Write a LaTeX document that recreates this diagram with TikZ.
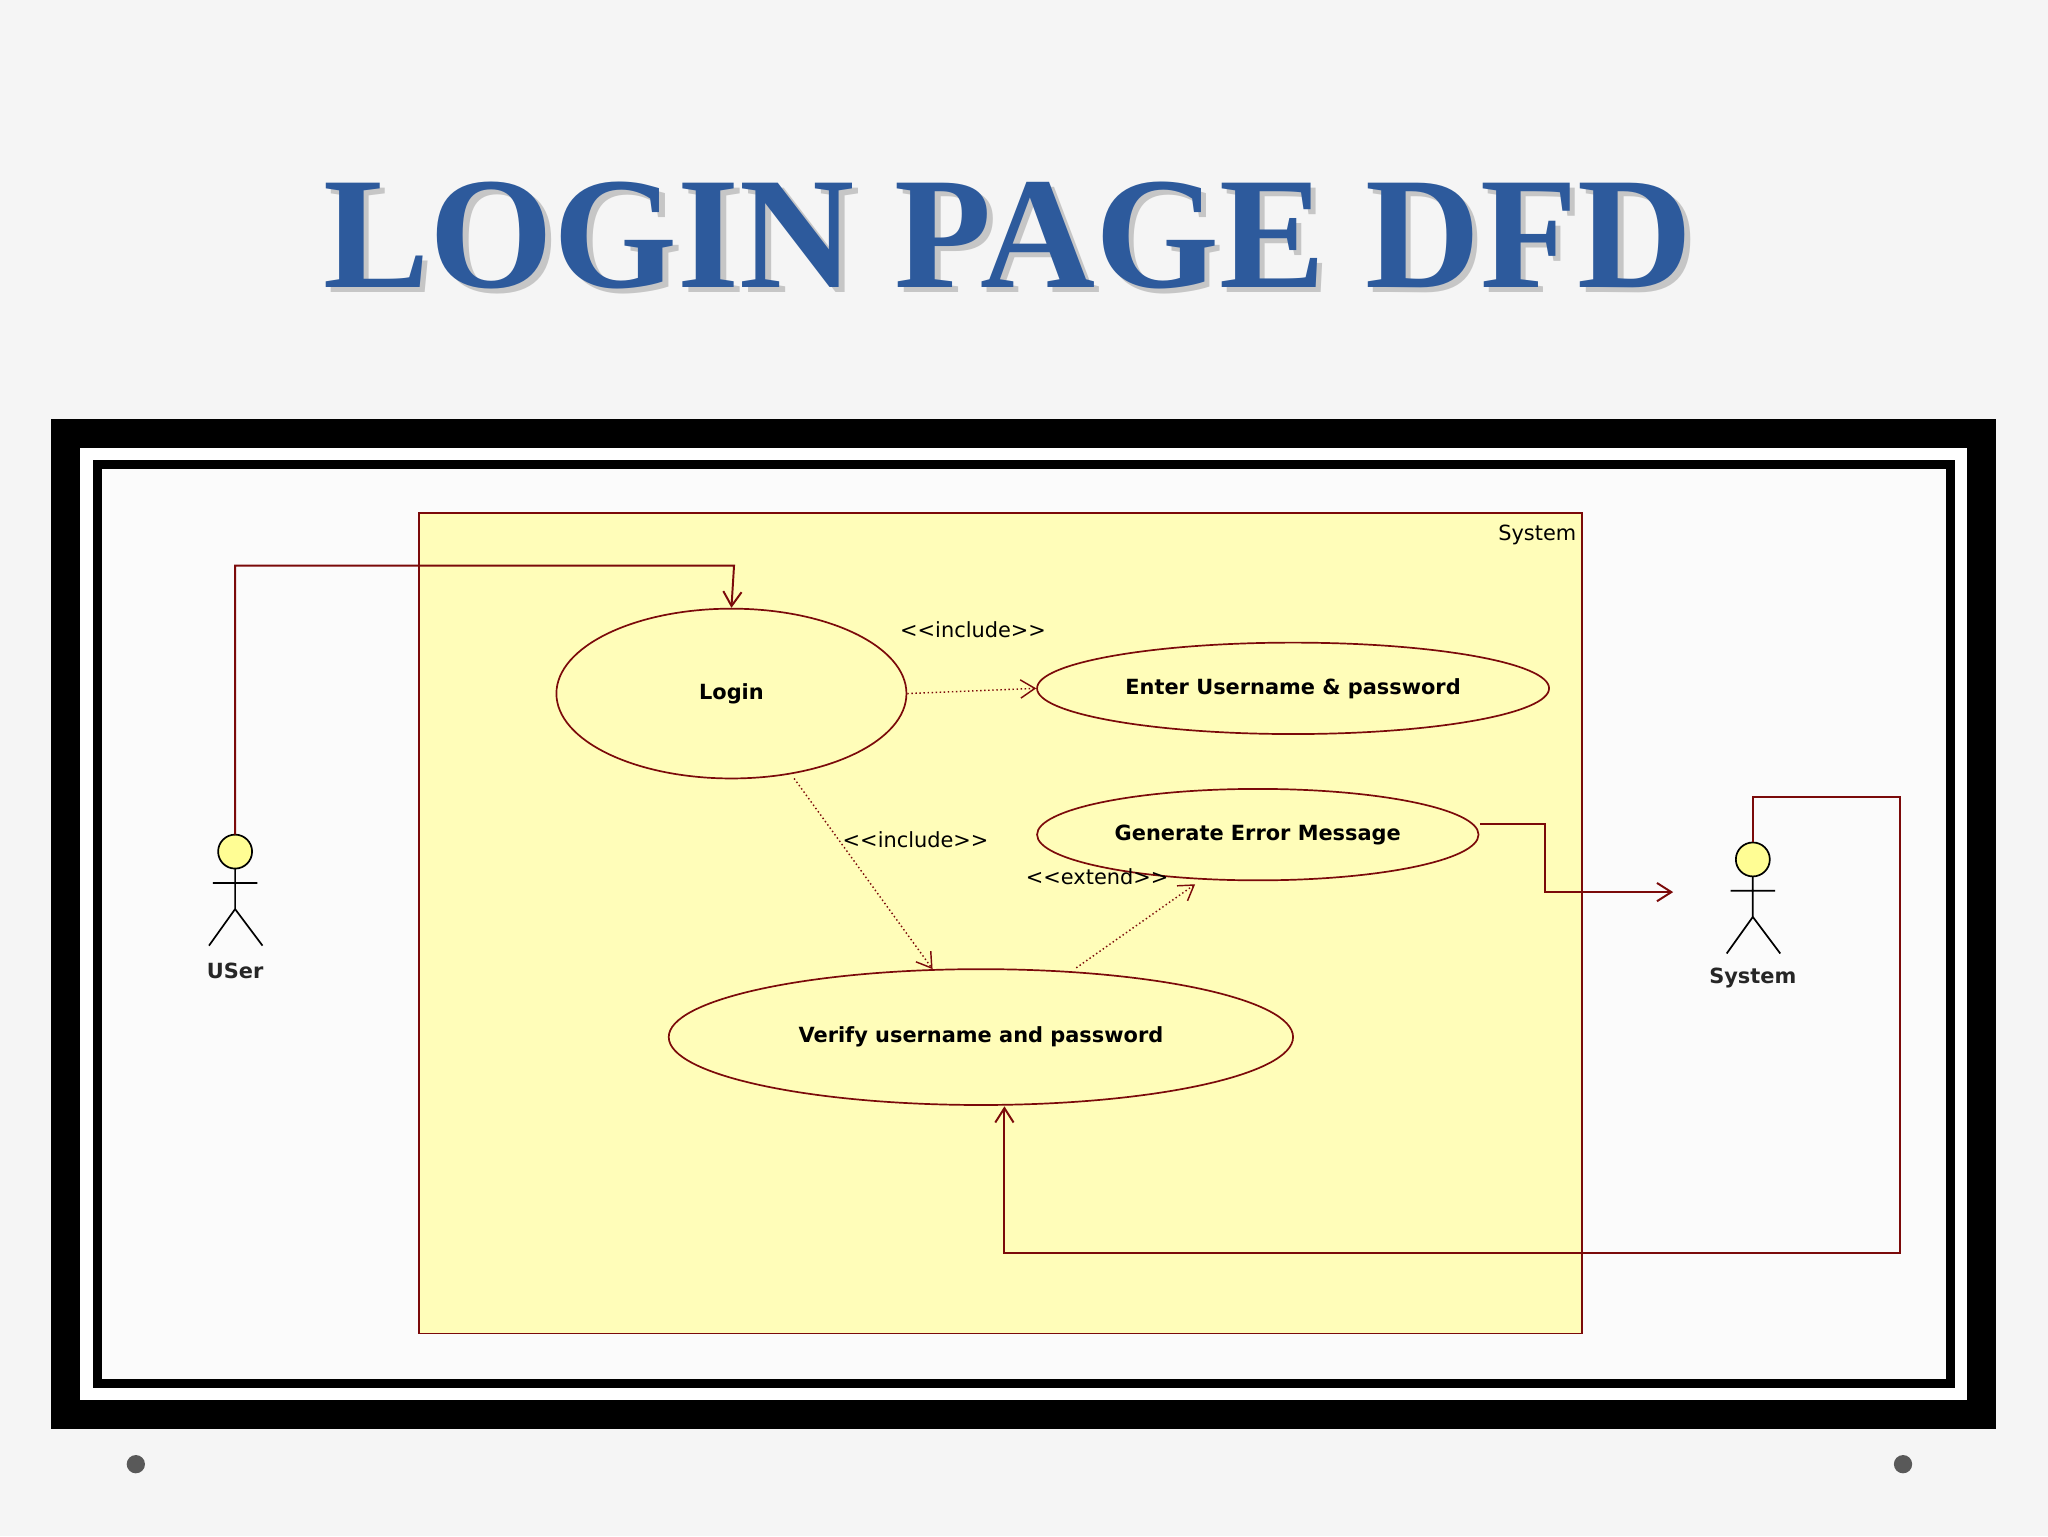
\documentclass[tikz,border=0pt]{standalone}
\usepackage{fontspec}
\setmainfont{DejaVu Sans}
\newfontfamily\titlefont{Liberation Serif}
\usetikzlibrary{arrows.meta,shapes.geometric}
\definecolor{dred}{HTML}{7B0A0A}
\definecolor{sysyel}{HTML}{FFFDB9}
\definecolor{ttl}{HTML}{2D5A9C}
\tikzset{
 uc/.style={ellipse,draw=dred,line width=1.3pt,font=\fontsize{16}{18}\selectfont\bfseries,inner sep=0pt},
 lbl/.style={font=\fontsize{16}{18}\selectfont,inner sep=0pt},
 flow/.style={draw=dred,line width=1.5pt,-{Straight Barb[length=11pt,width=14pt]}},
 dep/.style={draw=dred,line width=1.1pt,dotted,-{Straight Barb[length=11pt,width=14pt]}},
 actor/.style={draw=black,line width=1.3pt}
}
\begin{document}
\begin{tikzpicture}[x=1pt,y=-1pt]
\useasboundingbox (0,0) rectangle (1568,1176);
\fill[gray!8] (0,0) rectangle (1568,1176);
% title
\node[text=gray!45,font=\titlefont\fontsize{122}{130}\selectfont\bfseries] at (776,184) {LOGIN PAGE DFD};
\node[text=ttl,font=\titlefont\fontsize{122}{130}\selectfont\bfseries] (title) at (772,180) {LOGIN PAGE DFD};
% frames
\fill[black] (39,321) rectangle (1528,1094);
\fill[white] (61,343) rectangle (1506,1072);
\fill[black] (71,352) rectangle (1497,1063);
\fill[white!97!gray] (78,359) rectangle (1490,1056);
% system box
\draw[dred,fill=sysyel,line width=1.3pt] (321,393) rectangle (1211,1021);
\node[lbl,anchor=north east] (syslbl) at (1207,402) {System};
% use cases
\node[uc,minimum width=268pt,minimum height=130pt] (login) at (560,531) {Login};
\node[uc,minimum width=392pt,minimum height=70pt] (enter) at (990,527) {Enter Username \& password};
\node[uc,minimum width=338pt,minimum height=70pt] (gen) at (963,639) {Generate Error Message};
\node[uc,minimum width=478pt,minimum height=104pt] (ver) at (751,794) {Verify username and password};
% actors
\foreach \n/\x/\y/\t in {user/180/652/USer, sys/1342/658/System}{
 \draw[actor,fill=sysyel!80!yellow] (\x,\y) circle (13);
 \coordinate (\n head) at (\x,\y-13);
 \draw[actor] (\x,\y+13) -- (\x,\y+44) (\x-17,\y+24) -- (\x+17,\y+24)
   (\x-20,\y+72) -- (\x,\y+44) -- (\x+21,\y+72);
 \node[font=\fontsize{16}{18}\selectfont\bfseries,text=black!85] (\n lbl) at (\x,\y+91) {\t};
}
% flows
\draw[flow] (userhead) -- (180,433) -- (562,433) -- (login.north);
\draw[dep] (login.east) -- (enter.west);
\node[lbl] (inc1) at (745,482) {{<}{<}include{>}{>}};
\coordinate (in1) at (608,596);
\coordinate (in2) at (714,742);
\draw[dep] (in1) -- (in2);
\node[lbl] (inc2) at (701,643) {{<}{<}include{>}{>}};
\coordinate (ex1) at (824,741);
\coordinate (ex2) at (915,677);
\draw[dep] (ex1) -- (ex2);
\node[lbl] (ext) at (840,671) {{<}{<}extend{>}{>}};
\coordinate (ge) at (1133,631);
\coordinate (arrend) at (1281,683);
\draw[flow] (ge) -- (1183,631) -- (1183,683) -- (arrend);
\draw[flow] (syshead) -- (1342,610) -- (1455,610) -- (1455,959) -- (769,959) -- (769,847);
% dots
\fill[gray!70!black] (104,1121) circle (7) (1457,1121) circle (7);
\end{tikzpicture}
\end{document}
